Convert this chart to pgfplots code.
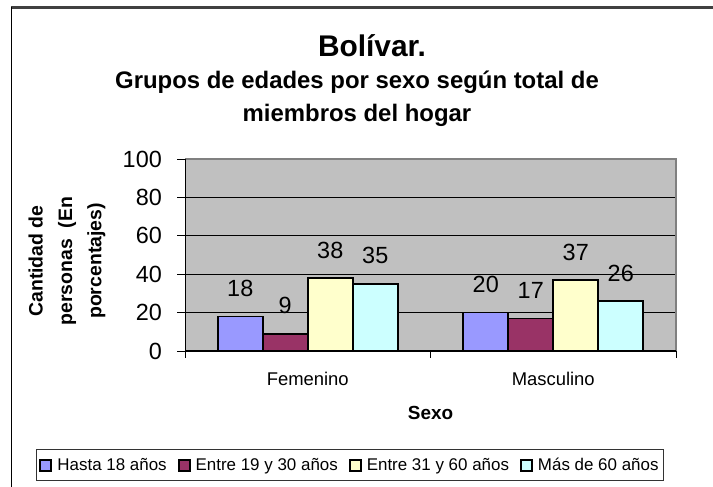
\documentclass[border=0pt]{standalone}
\usepackage{fontspec}
\setmainfont{Liberation Sans}
\usepackage{pgfplots}
\pgfplotsset{compat=1.18}
\definecolor{c1}{HTML}{9999FF}
\definecolor{c2}{HTML}{993366}
\definecolor{c3}{HTML}{FFFFCC}
\definecolor{c4}{HTML}{CCFFFF}
\definecolor{plotbg}{HTML}{C0C0C0}
\definecolor{frame}{HTML}{808080}
\begin{document}
\begin{tikzpicture}[x=1bp,y=1bp]
\useasboundingbox (0,0) rectangle (713,487);
\fill[white] (0,0) rectangle (713,487);
\draw[line width=2.2bp, color=black!75] (11,479.5) -- (713,479.5);
\draw[line width=1bp, black] (11,0) -- (11,480);
\begin{axis}[
  name=ax,
  at={(185bp,136bp)}, anchor=south west,
  scale only axis, width=491bp, height=192bp,
  ybar=0pt, bar width=45bp,
  xmin=-0.5, xmax=1.5, ymin=0, ymax=100,
  ytick={0,20,...,100},
  xtick={0,1}, xticklabels={Femenino,Masculino},
  minor xtick={-0.5,0.5,1.5},
  axis background/.style={fill=plotbg},
  axis line style={draw=none},
  ymajorgrids, grid style={black, line width=0.8bp},
  tick align=outside, xtick pos=bottom, ytick pos=left,
  major tick length=8bp, minor tick length=7bp,
  major x tick style={draw=none},
  minor x tick style={black, line width=0.8bp},
  ytick style={black, line width=0.8bp},
  /pgf/number format/assume math mode=true,
  yticklabel style={font=\fontsize{23.5}{23.5}\selectfont, anchor=east, inner sep=0pt, xshift=-15bp},
  xticklabel style={font=\fontsize{18.5}{18.5}\selectfont, anchor=north, inner sep=0pt, yshift=-13bp},
  xlabel={Sexo},
  xlabel style={font=\fontsize{19}{19}\selectfont\bfseries, at={(0.5,-0.359)}, anchor=base},
  nodes near coords,
  every node near coord/.append style={font=\fontsize{23.5}{23.5}\selectfont, anchor=center, yshift=28bp, black},
  legend style={at={(0.336,-0.594)}, anchor=center, legend columns=4,
    draw=black!80, line width=0.8bp, fill=white,
    font=\fontsize{17}{17}\selectfont, inner xsep=3bp, inner ysep=6.5bp,
    /tikz/every odd column/.append style={column sep=3bp},
    /tikz/every even column/.append style={column sep=9bp}},
  legend image code/.code={\draw[#1, line width=2bp] (0bp,-5.5bp) rectangle (11bp,5.5bp);},
  clip=false,
]
\addplot[draw=black, line width=1.6bp, fill=c1] coordinates {(0,18) (1,20)};
\addplot[draw=black, line width=1.6bp, fill=c2] coordinates {(0,9) (1,17)};
\addplot[draw=black, line width=1.6bp, fill=c3] coordinates {(0,38) (1,37)};
\addplot[draw=black, line width=1.6bp, fill=c4] coordinates {(0,35) (1,26)};
\legend{Hasta 18 años, Entre 19 y 30 años, Entre 31 y 60 años, Más de 60 años}
\end{axis}
\draw[frame, line width=2bp] (ax.north west) -- (ax.north east) -- (ax.south east);
\draw[black, line width=1bp] (ax.north west) -- (ax.south west) -- (ax.south east);
\node[font=\fontsize{30}{30}\selectfont\bfseries, anchor=base] at (372,430) {Bolívar.};
\node[font=\fontsize{24}{24}\selectfont\bfseries, anchor=base] at (357,398) {Grupos de edades por sexo según total de};
\node[font=\fontsize{24}{24}\selectfont\bfseries, anchor=base] at (357,365) {miembros del hogar};
\node[font=\fontsize{19.5}{29.5}\selectfont\bfseries, rotate=90, align=center] at (67,226) {Cantidad de\\personas\ \ (En\\porcentajes)};
\end{tikzpicture}
\end{document}
